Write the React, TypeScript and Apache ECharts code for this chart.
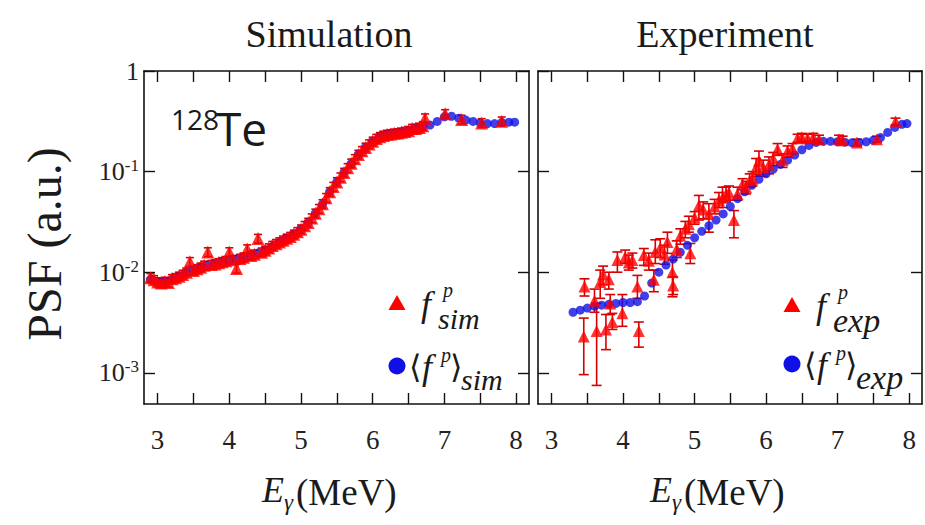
import React, { useEffect, useRef } from "react";
import * as echarts from "echarts";

// Axis ranges and tick positions
const X_MIN = 2.81;
const X_MAX = 8.18;
const Y_MIN = 0.00049;
const Y_MAX = 1;
const xTickValues = [3, 3.5, 4, 4.5, 5, 5.5, 6, 6.5, 7, 7.5, 8];
const xLabelValues = [3, 4, 5, 6, 7, 8];
const yTickValues = [0.001, 0.01, 0.1, 1];

// Simulated photon strength function points
const simEnergy = [
  2.9, 2.95, 3.0, 3.05, 3.1, 3.15, 3.2, 3.25, 3.3, 3.35, 3.4, 3.45, 3.5, 3.55, 3.6, 3.65, 3.7,
  3.75, 3.8, 3.85, 3.9, 3.95, 4.0, 4.05, 4.1, 4.15, 4.2, 4.25, 4.3, 4.35, 4.4, 4.45, 4.5, 4.55,
  4.6, 4.65, 4.7, 4.75, 4.8, 4.85, 4.9, 4.95, 5.0, 5.05, 5.1, 5.15, 5.2, 5.25, 5.3, 5.35, 5.4,
  5.45, 5.5, 5.55, 5.6, 5.65, 5.7, 5.75, 5.8, 5.85, 5.9, 5.95, 6.0, 6.05, 6.1, 6.15, 6.2, 6.25,
  6.3, 6.35, 6.4, 6.45, 6.5, 6.55, 6.6, 6.65, 6.7, 6.73, 7.01, 7.24, 7.52, 7.8,
];
const simStrength = [
  0.0088, 0.0084, 0.008, 0.0078, 0.0081, 0.0079, 0.0086, 0.0088, 0.0091, 0.0095, 0.01, 0.0127,
  0.0104, 0.0108, 0.0112, 0.0117, 0.0159, 0.0119, 0.0121, 0.0124, 0.0127, 0.013, 0.0159, 0.0133,
  0.0109, 0.0137, 0.0141, 0.017, 0.0147, 0.0151, 0.0216, 0.0158, 0.0165, 0.0174, 0.0184, 0.0192,
  0.02, 0.0208, 0.0217, 0.0226, 0.0238, 0.0252, 0.0268, 0.029, 0.0312, 0.0345, 0.0385, 0.0428,
  0.0478, 0.055, 0.063, 0.071, 0.079, 0.088, 0.098, 0.109, 0.121, 0.134, 0.148, 0.161, 0.174,
  0.188, 0.2, 0.213, 0.222, 0.229, 0.234, 0.237, 0.24, 0.242, 0.246, 0.25, 0.255, 0.268, 0.268,
  0.275, 0.285, 0.34, 0.375, 0.33, 0.305, 0.317,
];
const SIM_REL_ERR = 0.1;

// Averaged simulated strength
const simAvgEnergy = [
  2.9, 3.0, 3.1, 3.2, 3.3, 3.4, 3.5, 3.6, 3.7, 3.8, 3.9, 4.0, 4.1, 4.2, 4.3, 4.4, 4.5, 4.6, 4.7,
  4.8, 4.9, 5.0, 5.1, 5.2, 5.3, 5.4, 5.5, 5.6, 5.7, 5.8, 5.9, 6.0, 6.1, 6.2, 6.3, 6.4, 6.5, 6.6,
  6.7, 6.8, 6.9, 7.0, 7.1, 7.2, 7.3, 7.4, 7.5, 7.6, 7.7, 7.8, 7.9, 7.98,
];
const simAvgStrength = [
  0.0085, 0.0081, 0.0081, 0.0085, 0.0091, 0.0099, 0.0106, 0.0112, 0.0117, 0.0121, 0.0126, 0.013,
  0.0135, 0.0141, 0.0147, 0.0155, 0.0165, 0.018, 0.0198, 0.0216, 0.0238, 0.0268, 0.0312, 0.0385,
  0.0475, 0.063, 0.079, 0.098, 0.12, 0.148, 0.174, 0.2, 0.222, 0.234, 0.24, 0.246, 0.255, 0.268,
  0.28, 0.29, 0.315, 0.35, 0.355, 0.34, 0.325, 0.315, 0.305, 0.3, 0.3, 0.308, 0.31, 0.31,
];

// Experimental points with lower / upper error limits
const expEnergy = [
  3.45, 3.46, 3.6, 3.63, 3.68, 3.72, 3.76, 3.8, 3.82, 3.85, 3.92, 3.99, 4.03, 4.08, 4.13, 4.2,
  4.22, 4.29, 4.36, 4.43, 4.45, 4.52, 4.58, 4.62, 4.69, 4.7, 4.75, 4.8, 4.87, 4.92, 4.94, 5.0,
  5.06, 5.12, 5.2, 5.28, 5.34, 5.39, 5.44, 5.48, 5.55, 5.6, 5.67, 5.72, 5.77, 5.81, 5.86, 5.9,
  5.96, 6.04, 6.1, 6.16, 6.23, 6.3, 6.37, 6.44, 6.5, 6.58, 6.66, 6.74, 7.02, 7.07, 7.27, 7.55,
  7.81,
];
const expStrength = [
  0.0023, 0.0072, 0.0052, 0.0026, 0.008, 0.0095, 0.0027, 0.0085, 0.0049, 0.0032, 0.0132, 0.0039,
  0.0142, 0.0125, 0.0132, 0.0072, 0.0026, 0.0148, 0.013, 0.0084, 0.0159, 0.0175, 0.015, 0.02, 0.01,
  0.0074, 0.017, 0.023, 0.027, 0.03, 0.0154, 0.035, 0.046, 0.042, 0.038, 0.045, 0.052, 0.055, 0.06,
  0.062, 0.033, 0.06, 0.075, 0.07, 0.082, 0.085, 0.11, 0.128, 0.11, 0.118, 0.135, 0.167, 0.13, 0.16,
  0.17, 0.215, 0.22, 0.215, 0.22, 0.21, 0.21, 0.205, 0.195, 0.21, 0.315,
];
const expLow = [
  0.00096, 0.0058, 0.004, 0.00075, 0.0055, 0.0075, 0.0017, 0.0068, 0.0038, 0.0027, 0.01, 0.0029,
  0.0122, 0.0105, 0.011, 0.0055, 0.0018, 0.0117, 0.0105, 0.0064, 0.0122, 0.014, 0.012, 0.0154,
  0.0057, 0.006, 0.014, 0.019, 0.022, 0.025, 0.0122, 0.03, 0.033, 0.034, 0.025, 0.038, 0.044,
  0.044, 0.05, 0.052, 0.022, 0.052, 0.066, 0.06, 0.07, 0.072, 0.09, 0.094, 0.09, 0.095, 0.115,
  0.145, 0.11, 0.14, 0.15, 0.195, 0.2, 0.195, 0.2, 0.19, 0.19, 0.185, 0.18, 0.195, 0.29,
];
const expHigh = [
  0.0035, 0.0086, 0.0068, 0.0049, 0.0105, 0.0115, 0.0038, 0.01, 0.006, 0.0039, 0.0159, 0.006,
  0.0166, 0.0148, 0.0155, 0.0093, 0.0032, 0.0172, 0.0155, 0.0105, 0.021, 0.0215, 0.0185, 0.025,
  0.0132, 0.009, 0.0205, 0.027, 0.032, 0.036, 0.0193, 0.04, 0.058, 0.05, 0.048, 0.053, 0.062, 0.07,
  0.07, 0.072, 0.041, 0.07, 0.085, 0.08, 0.095, 0.1, 0.135, 0.16, 0.13, 0.14, 0.155, 0.19, 0.15,
  0.18, 0.19, 0.235, 0.24, 0.235, 0.24, 0.23, 0.23, 0.225, 0.21, 0.225, 0.34,
];

// Averaged experimental strength
const expAvgEnergy = [
  3.3, 3.4, 3.5, 3.6, 3.7, 3.8, 3.9, 4.0, 4.1, 4.2, 4.3, 4.4, 4.5, 4.6, 4.7, 4.8, 4.9, 5.0, 5.1,
  5.2, 5.3, 5.4, 5.5, 5.6, 5.7, 5.8, 5.9, 6.0, 6.1, 6.2, 6.3, 6.4, 6.5, 6.6, 6.7, 6.8, 6.9, 7.0,
  7.1, 7.2, 7.3, 7.4, 7.5, 7.6, 7.7, 7.8, 7.9, 7.97,
];
const expAvgStrength = [
  0.004, 0.0042, 0.0044, 0.0046, 0.0047, 0.0048, 0.0049, 0.005, 0.005, 0.0051, 0.0058, 0.0078,
  0.01, 0.0118, 0.0135, 0.0158, 0.0185, 0.022, 0.0255, 0.029, 0.033, 0.038, 0.045, 0.054, 0.063,
  0.073, 0.084, 0.095, 0.106, 0.118, 0.13, 0.146, 0.165, 0.182, 0.195, 0.2, 0.2, 0.198, 0.196,
  0.194, 0.195, 0.198, 0.205, 0.218, 0.245, 0.275, 0.295, 0.3,
];

const SERIF = "Liberation Serif, DejaVu Serif, serif";
const SANS = "Open Sans, Noto Sans, sans-serif";
const RED = "#ff0000";
const RED_BAR = "#d80000";
const BLUE = "#1010e6";

const pairs = (xs: number[], ys: number[]) => xs.map((x, i) => [x, ys[i]]);

const errorBarRenderer = (capHalf: number) => (_params: any, api: any) => {
  const x = api.value(0);
  const top = api.coord([x, api.value(2)]);
  const bottom = api.coord([x, api.value(1)]);
  const style = { stroke: RED_BAR, lineWidth: 1.6 };
  return {
    type: "group",
    children: [
      { type: "line", shape: { x1: top[0], y1: top[1], x2: bottom[0], y2: bottom[1] }, style },
      { type: "line", shape: { x1: top[0] - capHalf, y1: top[1], x2: top[0] + capHalf, y2: top[1] }, style },
      { type: "line", shape: { x1: bottom[0] - capHalf, y1: bottom[1], x2: bottom[0] + capHalf, y2: bottom[1] }, style },
    ],
  };
};

const tickStyle = { inside: true, length: 11, lineStyle: { color: "#111", width: 1.4 } };

const xAxisPair = (gridIndex: number, showLabels: boolean) => [
  {
    type: "value",
    gridIndex,
    min: X_MIN,
    max: X_MAX,
    position: "bottom",
    axisLine: { show: true, onZero: false, lineStyle: { color: "#111", width: 1.6 } },
    axisTick: { ...tickStyle, customValues: xTickValues },
    axisLabel: {
      show: showLabels,
      customValues: xLabelValues,
      margin: 22,
      fontFamily: SERIF,
      fontSize: 27,
      color: "#222",
    },
    splitLine: { show: false },
  },
  {
    type: "value",
    gridIndex,
    min: X_MIN,
    max: X_MAX,
    position: "top",
    axisLine: { show: true, onZero: false, lineStyle: { color: "#111", width: 1.6 } },
    axisTick: { ...tickStyle, customValues: xTickValues },
    axisLabel: { show: false },
    splitLine: { show: false },
  },
];

const yAxisPair = (gridIndex: number, showLabels: boolean) => [
  {
    type: "log",
    logBase: 10,
    gridIndex,
    min: Y_MIN,
    max: Y_MAX,
    position: "left",
    axisLine: { show: true, onZero: false, lineStyle: { color: "#111", width: 1.6 } },
    axisTick: { ...tickStyle, customValues: yTickValues },
    axisLabel: {
      show: showLabels,
      customValues: yTickValues,
      margin: 5,
      formatter: (v: number) => {
        const e = Math.round(Math.log10(v));
        return e === 0 ? "{b|1}" : `{b|10}{s|${e}}`;
      },
      rich: {
        b: { fontFamily: SERIF, fontSize: 26, color: "#222" },
        s: { fontFamily: SERIF, fontSize: 17, color: "#222", verticalAlign: "top", padding: [0, 0, 12, 0] },
      },
    },
    splitLine: { show: false },
  },
  {
    type: "log",
    logBase: 10,
    gridIndex,
    min: Y_MIN,
    max: Y_MAX,
    position: "right",
    axisLine: { show: true, onZero: false, lineStyle: { color: "#111", width: 1.6 } },
    axisTick: { ...tickStyle, customValues: yTickValues },
    axisLabel: { show: false },
    splitLine: { show: false },
  },
];

const txt = (
  text: string,
  x: number,
  y: number,
  size: number,
  opts: { align?: string; italic?: boolean; family?: string; rotation?: number } = {}
) => {
  const align = opts.align ?? "left";
  return {
    type: "text",
    x,
    y,
    rotation: opts.rotation ?? 0,
    style: {
      text,
      fill: "#1a1a1a",
      fontFamily: opts.family ?? SERIF,
      fontSize: size,
      fontStyle: opts.italic ? "italic" : "normal",
      textAlign: align,
      align,
      textVerticalAlign: "middle",
      verticalAlign: "middle",
    },
  };
};

// Legend glyph block: marker, f with superscript p, subscript label
const legendBlock = (x: number, yTri: number, yCirc: number, sub: string, subSize: number) => [
  {
    type: "polygon",
    shape: { points: [[x, yTri - 8], [x - 8.5, yTri + 7], [x + 8.5, yTri + 7]] },
    style: { fill: RED },
  },
  { type: "circle", shape: { cx: x, cy: yCirc, r: 8.5 }, style: { fill: BLUE } },
  txt("f", x + 24, yTri + 1, 36, { italic: true }),
  txt("p", x + 46, yTri - 13, 20, { italic: true }),
  txt(sub, x + 41, yTri + 15, subSize, { italic: true }),
  txt("\u27E8", x + 12, yCirc + 1, 32, { family: "DejaVu Serif, serif" }),
  txt("f", x + 25, yCirc + 1, 36, { italic: true }),
  txt("p", x + 44, yCirc - 11, 20, { italic: true }),
  txt("\u27E9", x + 53, yCirc + 1, 32, { family: "DejaVu Serif, serif" }),
  txt(sub, x + 64, yCirc + 13, subSize, { italic: true }),
];

const energyName = (x: number) => [
  txt("E", x, 490, 36, { italic: true }),
  txt("\u03B3", x + 22, 502, 23, { italic: true }),
  txt("(MeV)", x + 34, 492, 37),
];

export default function App() {
  const ref = useRef<HTMLDivElement>(null);

  useEffect(() => {
    if (!ref.current) return;
    const chart = echarts.init(ref.current, undefined, { renderer: "svg" });

    const simBars = simEnergy.map((e, i) => [e, simStrength[i] * (1 - SIM_REL_ERR), simStrength[i] * (1 + SIM_REL_ERR)]);
    const expBars = expEnergy.map((e, i) => [e, expLow[i], expHigh[i]]);

    chart.setOption({
      animation: false,
      backgroundColor: "#ffffff",
      grid: [
        { left: 144, top: 71, width: 385, height: 333, show: false },
        { left: 538, top: 71, width: 384, height: 333, show: false },
      ],
      xAxis: [...xAxisPair(0, true), ...xAxisPair(1, true)],
      yAxis: [...yAxisPair(0, true), ...yAxisPair(1, false)],
      series: [
        {
          type: "scatter",
          xAxisIndex: 0,
          yAxisIndex: 0,
          symbol: "circle",
          symbolSize: 9,
          itemStyle: { color: BLUE },
          data: pairs(simAvgEnergy, simAvgStrength),
        },
        {
          type: "custom",
          xAxisIndex: 0,
          yAxisIndex: 0,
          renderItem: errorBarRenderer(4),
          encode: { x: 0, y: [1, 2] },
          data: simBars,
        },
        {
          type: "scatter",
          xAxisIndex: 0,
          yAxisIndex: 0,
          symbol: "triangle",
          symbolSize: 13,
          itemStyle: { color: RED },
          data: pairs(simEnergy, simStrength),
        },
        {
          type: "scatter",
          xAxisIndex: 2,
          yAxisIndex: 2,
          symbol: "circle",
          symbolSize: 9,
          itemStyle: { color: BLUE },
          data: pairs(expAvgEnergy, expAvgStrength),
        },
        {
          type: "custom",
          xAxisIndex: 2,
          yAxisIndex: 2,
          renderItem: errorBarRenderer(5),
          encode: { x: 0, y: [1, 2] },
          data: expBars,
        },
        {
          type: "scatter",
          xAxisIndex: 2,
          yAxisIndex: 2,
          symbol: "triangle",
          symbolSize: 12,
          itemStyle: { color: RED },
          data: pairs(expEnergy, expStrength),
        },
      ],
      graphic: [
        txt("Simulation", 329, 34, 38, { align: "center" }),
        txt("Experiment", 725, 34, 38, { align: "center" }),
        txt("PSF (a.u.)", 44, 244, 48, { align: "center", rotation: Math.PI / 2 }),
        txt("128", 171, 119, 28, { family: SANS }),
        txt("Te", 216, 128, 46, { family: SANS }),
        ...energyName(262),
        ...energyName(650),
        ...legendBlock(397, 303, 366, "sim", 30),
        ...legendBlock(792, 305, 364, "exp", 34),
      ],
    });

    return () => chart.dispose();
  }, []);

  return (
    <div
      ref={ref}
      style={{ position: "fixed", left: 0, top: 0, width: 925, height: 525, background: "#fff" }}
    />
  );
}
